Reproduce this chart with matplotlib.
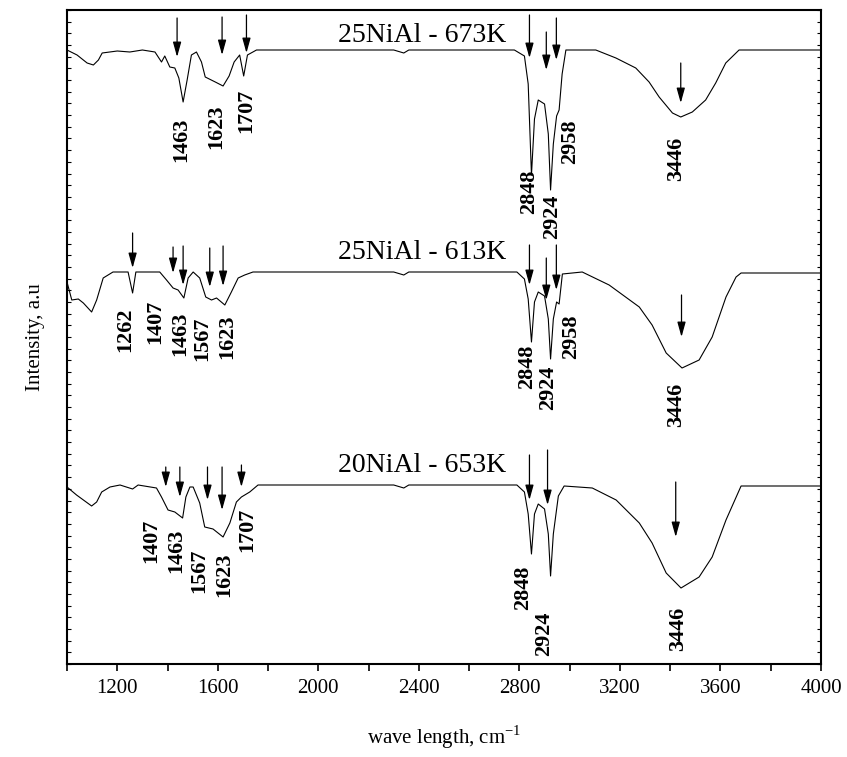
import matplotlib
matplotlib.use("Agg")
import matplotlib.pyplot as plt
import numpy as np

plt.rcParams['font.family'] = ['Liberation Serif', 'DejaVu Serif']
plt.rcParams['mathtext.fontset'] = 'custom'
plt.rcParams['mathtext.rm'] = 'Liberation Serif'

# ---- data (wavenumber, cm-1 ; intensity, a.u.) ----
top_wn = [1000, 1040, 1080, 1105, 1125, 1140, 1200, 1250, 1300, 1350, 1376, 1389, 1409, 1429,
          1445, 1462, 1478, 1495, 1515, 1535, 1550, 1590, 1621, 1645, 1665, 1687, 1703, 1718,
          1754, 2300, 2340, 2360, 2780, 2820, 2835, 2848, 2860, 2875, 2900, 2915, 2924, 2935,
          2948, 2958, 2970, 2985, 3104, 3184, 3263, 3316, 3356, 3409, 3442, 3488, 3541, 3581,
          3621, 3674, 4000]
top_I = [614, 609, 601, 599, 604, 611, 613, 612, 614, 612, 602, 608, 597, 596,
         586, 562, 584, 609, 612, 602, 587, 582, 578, 588, 602, 609, 588, 609,
         614, 614, 611, 614, 614, 608, 580, 489, 545, 564, 560, 530, 474, 520,
         548, 554, 590, 614, 614, 606, 596, 582, 567, 551, 547, 552, 564, 581,
         601, 614, 614]

mid_wn = [1000, 1019, 1045, 1065, 1098, 1118, 1144, 1183, 1243, 1261, 1274, 1369, 1396, 1422,
          1442, 1465, 1482, 1502, 1528, 1552, 1575, 1595, 1628, 1654, 1681, 1707, 1740, 2300,
          2340, 2360, 2790, 2820, 2835, 2848, 2860, 2875, 2900, 2915, 2924, 2935, 2948, 2958,
          2971, 3050, 3157, 3277, 3328, 3384, 3447, 3515, 3567, 3622, 3662, 3682, 4000]
mid_I = [382, 364, 365, 361, 352, 364, 386, 392, 392, 371, 392, 392, 384, 376,
         374, 366, 386, 392, 386, 367, 364, 366, 359, 372, 386, 389, 392, 392,
         389, 392, 392, 385, 365, 322, 362, 372, 368, 345, 305, 345, 362, 360,
         390, 392, 379, 357, 339, 311, 296, 304, 327, 367, 387, 391, 391]

bot_wn = [1000, 1038, 1098, 1118, 1138, 1171, 1211, 1261, 1283, 1356, 1376, 1402, 1429, 1460,
          1473, 1489, 1502, 1528, 1548, 1581, 1621, 1648, 1674, 1694, 1727, 1760, 2300, 2340,
          2360, 2790, 2820, 2835, 2848, 2860, 2875, 2900, 2915, 2924, 2935, 2955, 2978, 3090,
          3185, 3277, 3328, 3384, 3443, 3515, 3567, 3622, 3682, 4000]
bot_I = [177, 169, 158, 162, 172, 177, 179, 175, 179, 176, 167, 154, 152, 146,
         167, 177, 177, 161, 137, 135, 127, 141, 162, 167, 172, 179, 179, 176,
         179, 179, 172, 150, 110, 150, 160, 155, 130, 88, 130, 168, 178, 176,
         164, 141, 121, 91, 76, 87, 107, 144, 178, 178]

series_names = ["25NiAl - 673K", "25NiAl - 613K", "20NiAl - 653K"]

# peak annotations: (label, arrow x, arrow tail y, arrow head y, label x, label centre y)
top_ann = [("1463", 1438, 646, 607, 1455, 524),
           ("1623", 1617, 647, 609, 1595, 537),
           ("1707", 1714, 649, 611, 1714, 553),
           ("2848", 2840, 649, 606, 2840, 472),
           ("2924", 2907, 632, 594, 2931, 447),
           ("2958", 2947, 646, 604, 3002, 522),
           ("3446", 3442, 601, 561, 3422, 505)]

mid_ann = [("1262", 1261, 431, 396, 1233, 334),
           ("1407", 1422, 417, 391, 1352, 342),
           ("1463", 1462, 418, 379, 1451, 330),
           ("1567", 1568, 416, 377, 1537, 325),
           ("1623", 1621, 418, 378, 1637, 327),
           ("2848", 2840, 419, 379, 2830, 297),
           ("2924", 2907, 406, 364, 2913, 276),
           ("2958", 2947, 419, 374, 3006, 327),
           ("3446", 3445, 369, 327, 3422, 259)]

bot_ann = [("1407", 1393, 197, 177, 1337, 123),
           ("1463", 1449, 197, 167, 1436, 113),
           ("1567", 1559, 197, 164, 1528, 93),
           ("1623", 1617, 197, 154, 1624, 89),
           ("1707", 1694, 199, 177, 1716, 134),
           ("2848", 2840, 209, 164, 2814, 76),
           ("2924", 2912, 214, 159, 2899, 30),
           ("3446", 3422, 182, 127, 3430, 35)]

xticks_major = [1200, 1600, 2000, 2400, 2800, 3200, 3600, 4000]

# ---- figure ----
fig = plt.figure(figsize=(8.47, 7.57), dpi=100)
ax = fig.add_axes([67/847, 93/757, 754/847, 654/757])

ax.plot(top_wn, top_I, color='black', lw=0.8)
ax.plot(mid_wn, mid_I, color='black', lw=0.8)
ax.plot(bot_wn, bot_I, color='black', lw=0.8)

ax.set_xlim(1000, 4000)
ax.set_ylim(0, 654)

# series titles
for name, y in zip(series_names, [622, 405, 192]):
    ax.text(2077, y, name, fontsize=20, ha='left', va='baseline')

for anns in (top_ann, mid_ann, bot_ann):
    for lab, ax_x, y0, y1, lx, ly in anns:
        ax.annotate('', xy=(ax_x, y1), xytext=(ax_x, y0),
                    arrowprops=dict(arrowstyle='-|>,head_length=0.9,head_width=0.25',
                                    lw=0.9, color='black', shrinkA=0, shrinkB=0))
        ax.text(lx, ly, lab, rotation=90, fontsize=16, fontweight='bold',
                ha='center', va='center')

ax.set_xticks(xticks_major)
ax.set_xticks(np.arange(1000, 4001, 200), minor=True)
ax.tick_params(axis='x', which='both', direction='out', length=5, width=1.2,
               labelsize=15, top=False, pad=6)
ax.set_yticks(np.arange(0, 655, 654/56))
ax.set_yticklabels([])
ax.tick_params(axis='y', which='both', direction='in', length=3, width=0.8,
               left=True, right=True)
for s in ax.spines.values():
    s.set_linewidth(1.5)

ax.set_xlabel(r"wave length, cm$^{\mathregular{-1}}$", fontsize=15, labelpad=18)
ax.set_ylabel("Intensity, a.u", fontsize=15, labelpad=12)

fig.savefig("out.png", dpi=100)
